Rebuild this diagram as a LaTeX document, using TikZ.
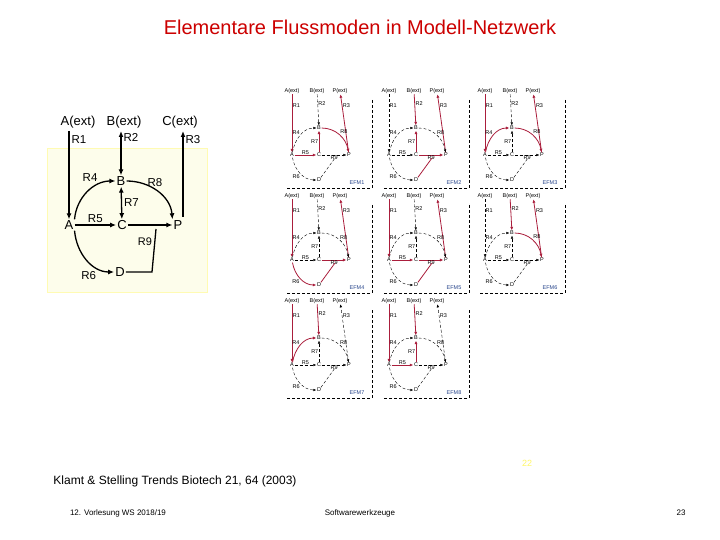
\documentclass[tikz,border=0pt]{standalone}
\usepackage{fontspec}
\setmainfont{Liberation Sans}
\usetikzlibrary{arrows.meta}
\definecolor{titlered}{RGB}{204,0,0}
\definecolor{boxyellow}{RGB}{253,253,235}
\definecolor{efmred}{RGB}{170,30,60}
\definecolor{efmblue}{RGB}{40,70,140}
\tikzset{
  lbl/.style={font=\fontsize{13}{15}\selectfont,inner sep=1pt},
  rlbl/.style={font=\fontsize{11.5}{13}\selectfont,inner sep=2pt},
  flux/.style={line width=1.3pt,-{Latex[length=6pt,width=5pt]}},
  tiny/.style={font=\fontsize{5.5}{6}\selectfont,inner sep=0.5pt,text=black},
  r1/.style={off},r2/.style={off},r3/.style={off},r4/.style={off},r5/.style={off},
  r6/.style={off},r7/.style={off},r8/.style={off},r9/.style={off},
  off/.style={densely dashed,thin,black,-{Latex[length=3pt,width=2.5pt]}},
  on/.style={solid,efmred,thick,-{Latex[length=3.5pt,width=3pt]}}
}
% one elementary mode panel
\newcommand{\efm}[3]{%
\begin{scope}[shift={#1},#3]
\node[tiny] (ae) at (15,6) {A(ext)};
\node[tiny] (be) at (40,6) {B(ext)};
\node[tiny] (pe) at (63,6) {P(ext)};
\node[tiny] (b) at (42,43) {B};
\node[tiny] (a) at (15,70) {A};
\node[tiny] (c) at (42,70) {C};
\node[tiny] (p) at (72,70) {P};
\node[tiny] (d) at (42,95) {D};
\coordinate (j) at (58,73);
\draw[r1] (ae) -- node[tiny,right,pos=0.2] {R1} (a);
\draw[r2] (be) -- node[tiny,right,pos=0.3] {R2} (b);
\draw[r3] (p) -- node[tiny,right,pos=0.8] {R3} (pe);
\draw[r4] (a) to[out=80,in=180] node[tiny,above left] {R4} (b);
\draw[r5] (a) -- node[tiny,above] {R5} (c);
\draw[r7] (c) -- node[tiny,left] {R7} (b);
\draw[r8] (b) to[out=0,in=100] node[tiny,above right] {R8} (p);
\draw[r6] (a) to[out=-80,in=180] node[tiny,below left] {R6} (d);
\draw[r9] (c) -- node[tiny,below] {R9} (p);
\draw[r9,-] (d) -- (j);
\node[tiny,text=efmblue] at (80,98) {#2};
\draw[densely dashed,thin] (95,15) -- (95,103) -- (10,103);
\end{scope}}
\begin{document}
\begin{tikzpicture}[x=1pt,y=-1pt]
\useasboundingbox[fill=white] (0,0) rectangle (720,540);
% title
\node[font=\fontsize{20}{24}\selectfont,text=titlered] (title) at (360,27) {Elementare Flussmoden in Modell-Netzwerk};
% model network
\draw[fill=boxyellow,draw=yellow!30,thick] (47,148) rectangle (207,292);
\node[lbl] (Aext) at (78,122) {A(ext)};
\node[lbl] (Bext) at (124,122) {B(ext)};
\node[lbl] (Cext) at (180,122) {C(ext)};
\node[lbl] (B) at (121,181) {B};
\node[lbl] (A) at (69,225) {A};
\node[lbl] (C) at (122,225) {C};
\node[lbl] (P) at (178,225) {P};
\node[lbl] (D) at (120,272) {D};
\coordinate (R1top) at (69,131);
\coordinate (R2top) at (121,131);
\coordinate (R3top) at (183,131);
\coordinate (R3bot) at (183,217);
\coordinate (J) at (156,229);
\draw[flux] (R1top) -- node[rlbl,right,pos=0.1] {R1} (A.north);
\draw[flux,{Latex[length=6pt,width=5pt]}-{Latex[length=6pt,width=5pt]}] (R2top) -- node[rlbl,right,pos=0.15] {R2} (B.north);
\draw[flux] (R3bot) -- node[rlbl,right,pos=0.9] {R3} (R3top);
\draw[flux] (A.north east) to[out=85,in=180] node[rlbl,above left,pos=0.75] {R4} (B.west);
\draw[flux] (A) -- node[rlbl,above] {R5} (C);
\draw[flux,{Latex[length=6pt,width=5pt]}-{Latex[length=6pt,width=5pt]}] (B) -- node[rlbl,right] {R7} (C);
\draw[flux] (B.east) to[out=0,in=95] node[rlbl,above,pos=0.45] {R8} (P.north west);
\draw[flux] (A.south east) to[out=-85,in=180] node[rlbl,below left,pos=0.75] {R6} (D.west);
\draw[flux] (C.east) -- (P.west);
\draw[line width=1.3pt] (D.east) -- (152,272) -- (J);
\node[rlbl,font=\fontsize{11}{13}\selectfont] (R9) at (145,242) {R9};
% elementary modes
\efm{(277,85)}{EFM1}{r1/.style={on},r5/.style={on},r7/.style={on},r8/.style={on},r3/.style={on}}
\efm{(374,85)}{EFM2}{r2/.style={on},r7/.style={on},r9/.style={on},r3/.style={on}}
\efm{(470,85)}{EFM3}{r1/.style={on},r4/.style={on},r8/.style={on},r3/.style={on}}
\efm{(277,190)}{EFM4}{r1/.style={on},r6/.style={on},r9/.style={on},r3/.style={on}}
\efm{(374,190)}{EFM5}{r1/.style={on},r5/.style={on},r9/.style={on},r3/.style={on}}
\efm{(470,190)}{EFM6}{r2/.style={on},r8/.style={on},r3/.style={on}}
\efm{(277,295)}{EFM7}{r1/.style={on},r4/.style={on},r2/.style={on}}
\efm{(374,295)}{EFM8}{r1/.style={on},r5/.style={on},r7/.style={on},r2/.style={on}}
% reference and footer
\node[font=\fontsize{9}{10}\selectfont,text=yellow!60!white] (num) at (527,463) {22};
\node[font=\fontsize{12}{14}\selectfont] (ref) at (175,481) {Klamt \& Stelling Trends Biotech 21, 64 (2003)};
\node[font=\fontsize{8}{10}\selectfont] (lecture) at (118,513) {12. Vorlesung WS 2018/19};
\node[font=\fontsize{8}{10}\selectfont] (course) at (360,513) {Softwarewerkzeuge};
\node[font=\fontsize{8}{10}\selectfont] (page) at (681,513) {23};
\end{tikzpicture}
\end{document}
